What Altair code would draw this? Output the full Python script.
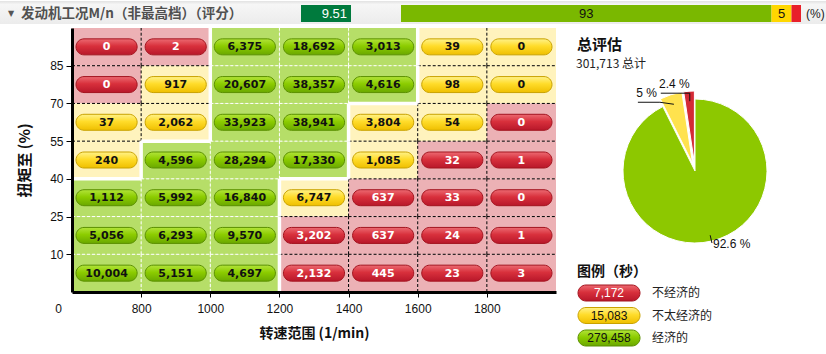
import json
import math
import altair as alt
import pandas as pd

# ---------------- data ----------------
rpm_labels = ["0", "800", "1000", "1200", "1400", "1600", "1800"]
torque_labels = ["10", "25", "40", "55", "70", "85"]

# rows from top (85+) to bottom (0-10)
cell_values = [
    [0, 2, 6375, 18692, 3013, 39, 0],
    [0, 917, 20607, 38357, 4616, 98, 0],
    [37, 2062, 33923, 38941, 3804, 54, 0],
    [240, 4596, 28294, 17330, 1085, 32, 1],
    [1112, 5992, 16840, 6747, 637, 33, 0],
    [5056, 6293, 9570, 3202, 637, 24, 1],
    [10004, 5151, 4697, 2132, 445, 23, 3],
]
cell_cats = [
    "RRGGGYY",
    "RYGGGYY",
    "YYGGYYR",
    "YGGGYRR",
    "GGGYRRR",
    "GGGRRRR",
    "GGGRRRR",
]
class_keys = ["R", "Y", "G"]
class_names = ["不经济的", "不太经济的", "经济的"]
class_seconds = [7172, 15083, 279458]
score = 9.51
header_title = "发动机工况M/n（非最高档）（评分）"
x_title = "转速范围 (1/min)"
y_title = "扭矩至 (%)"

# ---------------- styles ----------------
W, H = 484, 264
CJK = "Noto Sans CJK SC"
LAT = "Liberation Sans"
bg_col = {"R": "#ecb1b5", "Y": "#fff3bd", "G": "#b6de68"}
txt_col = {"R": "#ffffff", "Y": "#111111", "G": "#111111"}
pie_col = {"R": "#d42a35", "Y": "#ffe24e", "G": "#8dc800"}
bar_col = {"R": "#e8202a", "Y": "#ffd700", "G": "#7ab800"}
stroke_col = {"R": "#a3141f", "Y": "#c9a200", "G": "#5b9000"}


def grad(stops):
    return alt.Gradient(gradient="linear", x1=0, x2=0, y1=0, y2=1,
                        stops=[alt.GradientStop(color=c, offset=o) for o, c in stops])


pill_grad = {
    "R": grad([(0, "#ec6a72"), (0.45, "#d8303c"), (1, "#b8172a")]),
    "Y": grad([(0, "#fff28a"), (0.45, "#ffdc2a"), (1, "#efbf00")]),
    "G": grad([(0, "#b2e43a"), (0.45, "#8ccc00"), (1, "#6aa800")]),
}

# ---------------- grid table ----------------
rows = []
for i, (vals, cats) in enumerate(zip(cell_values, cell_cats)):
    r = 6 - i
    for c, (v, k) in enumerate(zip(vals, cats)):
        rows.append(dict(c=c, r=r, v=v, k=k, bg=bg_col[k], tc=txt_col[k]))
cells = pd.DataFrame(rows)
cat_at = {(d["c"], d["r"]): d["k"] for d in rows}


def edge_type(a, b):
    if a == b:
        return "dw" if a == "G" else "db"
    if "G" in (a, b):
        return "sw"
    return "db"


edges = []
for r in range(7):
    for c in range(6):
        edges.append(dict(x=c + 1, x2=c + 1, y=r, y2=r + 1,
                          t=edge_type(cat_at[(c, r)], cat_at[(c + 1, r)])))
for r in range(6):
    for c in range(7):
        edges.append(dict(x=c, x2=c + 1, y=r + 1, y2=r + 1,
                          t=edge_type(cat_at[(c, r)], cat_at[(c, r + 1)])))
edges = pd.DataFrame(edges)

XS = alt.Scale(domain=[0, 7], nice=False, zero=False)
YS = alt.Scale(domain=[0, 7], nice=False, zero=False)

x_axis = alt.Axis(
    values=list(range(7)),
    labelExpr=json.dumps(rpm_labels) + "[datum.value]",
    title=x_title, titleFont=CJK, titleFontWeight="bold", titleFontSize=14,
    titleColor="#111", titlePadding=12,
    labelFont=LAT, labelFontSize=12, labelColor="#111", labelPadding=6,
    labelFlush=False, labelOverlap=False,
    labelOffset=alt.condition("datum.value == 0", alt.value(-14), alt.value(0)),
    tickOpacity=alt.condition("datum.value == 0", alt.value(0), alt.value(1)),
    tickSize=5, tickColor="#000", tickWidth=1,
    domainColor="#000", domainWidth=3, grid=False, zindex=2,
)
y_axis = alt.Axis(
    values=list(range(1, 7)),
    labelExpr=json.dumps(torque_labels) + "[datum.value - 1]",
    title=y_title, titleFont=CJK, titleFontWeight="bold", titleFontSize=15,
    titleColor="#111", titlePadding=17,
    labelFont=LAT, labelFontSize=12, labelColor="#111", labelPadding=3,
    labelFlush=False, labelOverlap=False,
    tickSize=6, tickColor="#000", tickWidth=1,
    domainColor="#000", domainWidth=3, grid=False, zindex=2,
)

layers = []

bg = alt.Chart(cells).transform_calculate(
    c1="datum.c + 1", r1="datum.r + 1"
).mark_rect().encode(
    x=alt.X("c:Q", scale=XS, axis=x_axis),
    x2="c1:Q",
    y=alt.Y("r:Q", scale=YS, axis=y_axis),
    y2="r1:Q",
    fill=alt.Fill("bg:N", scale=None),
)
layers.append(bg)

edge_style = {
    "dw": dict(color="#ffffff", strokeWidth=1, strokeDash=[3, 2]),
    "db": dict(color="#000000", strokeWidth=1, strokeDash=[3, 2]),
    "sw": dict(color="#ffffff", strokeWidth=3.5),
}
for t in ["dw", "db", "sw"]:
    layers.append(
        alt.Chart(edges).transform_filter(f"datum.t == '{t}'").mark_rule(**edge_style[t]).encode(
            x=alt.X("x:Q", scale=XS, axis=None), x2="x2:Q",
            y=alt.Y("y:Q", scale=YS, axis=None), y2="y2:Q",
        )
    )

PX = 4 / (W / 7)
PY = 8 / (H / 7)
for k in class_keys:
    layers.append(
        alt.Chart(cells).transform_filter(f"datum.k == '{k}'").transform_calculate(
            x0=f"datum.c + {PX}", x1=f"datum.c + 1 - {PX}",
            y0=f"datum.r + 0.5 - {PY}", y1=f"datum.r + 0.5 + {PY}",
        ).mark_rect(cornerRadius=8, fill=pill_grad[k], stroke=stroke_col[k], strokeWidth=1).encode(
            x=alt.X("x0:Q", scale=XS, axis=None), x2="x1:Q",
            y=alt.Y("y0:Q", scale=YS, axis=None), y2="y1:Q",
        )
    )

layers.append(
    alt.Chart(cells).transform_calculate(
        xm="datum.c + 0.5", ym="datum.r + 0.5"
    ).mark_text(font="DejaVu Sans", fontWeight="bold", fontSize=11, baseline="middle",
                align="center", dy=0.5).encode(
        x=alt.X("xm:Q", scale=XS, axis=None),
        y=alt.Y("ym:Q", scale=YS, axis=None),
        text=alt.Text("v:Q", format=","),
        color=alt.Color("tc:N", scale=None),
    )
)

# ---------------- header ----------------
one = pd.DataFrame({"a": [0]})
layers.append(
    alt.Chart(one).mark_rect(
        fill=grad([(0, "#e2e2e2"), (0.15, "#f6f6f6"), (1, "#ececec")])
    ).encode(x=alt.value(-72), x2=alt.value(754), y=alt.value(-27), y2=alt.value(-4))
)
layers.append(
    alt.Chart(one).mark_text(text="▼", fontSize=8, color="#555", align="center",
                             baseline="middle", font="DejaVu Sans").encode(
        x=alt.value(-61), y=alt.value(-14))
)
layers.append(
    alt.Chart(one).mark_text(text=header_title, font=CJK, fontSize=13.5, color="#505050",
                             fontWeight="bold", align="left", baseline="middle").encode(
        x=alt.value(-51), y=alt.value(-14))
)
score_df = pd.DataFrame({"s": [score]})
layers.append(
    alt.Chart(score_df).mark_rect(fill="#007a3d").encode(
        x=alt.value(229), x2=alt.value(279), y=alt.value(-23), y2=alt.value(-6))
)
layers.append(
    alt.Chart(score_df).mark_text(font=LAT, fontSize=13, color="#ffffff", align="right",
                                  baseline="middle").encode(
        x=alt.value(275), y=alt.value(-14), text=alt.Text("s:Q", format=".2f"))
)

total = sum(class_seconds)
order_bar = ["G", "Y", "R"]
hb = []
acc = 0.0
for k in order_bar:
    p = class_seconds[class_keys.index(k)] / total * 100
    hb.append(dict(k=k, pct=p, h0=acc, h1=acc + p, hm=acc + p / 2, col=bar_col[k]))
    acc += p
hb = pd.DataFrame(hb)
HS = alt.Scale(domain=[0, 100], range=[329, 729], nice=False, zero=False)
layers.append(
    alt.Chart(hb).mark_rect().encode(
        x=alt.X("h0:Q", scale=HS, axis=None), x2="h1:Q",
        y=alt.value(-23), y2=alt.value(-6),
        fill=alt.Fill("col:N", scale=None),
    )
)
layers.append(
    alt.Chart(hb).transform_filter("datum.pct > 3").mark_text(
        font=LAT, fontSize=13, color="#111", align="center", baseline="middle").encode(
        x=alt.X("hm:Q", scale=HS, axis=None), y=alt.value(-14),
        text=alt.Text("pct:Q", format=".0f"),
    )
)
layers.append(
    alt.Chart(one).mark_text(text="(%)", font=LAT, fontSize=12, color="#222", align="left",
                             baseline="middle").encode(x=alt.value(734), y=alt.value(-14))
)

# ---------------- pie ----------------
CX, CY, R = 623, 143, 72
EX = 8
pie = []
acc = 0.0
for k in order_bar:
    f = class_seconds[class_keys.index(k)] / total
    t0, t1 = acc * 2 * math.pi, (acc + f) * 2 * math.pi
    m = (t0 + t1) / 2
    ex = 0 if k == "G" else EX
    pie.append(dict(k=k, pct=f * 100, t0=t0, t1=t1, mid=m,
                    px=CX + ex * math.sin(m), py=CY - ex * math.cos(m), col=pie_col[k]))
    acc += f
pie = pd.DataFrame(pie)
layers.append(
    alt.Chart(pie).mark_arc(outerRadius=R, stroke="#ffffff", strokeWidth=1).encode(
        x=alt.X("px:Q", scale=None), y=alt.Y("py:Q", scale=None),
        theta=alt.Theta("t0:Q", scale=None), theta2="t1:Q",
        fill=alt.Fill("col:N", scale=None),
    )
)

# pie labels and leader lines (from slice mid-angles)
lab, seg = [], []
for _, d in pie.iterrows():
    s, c = math.sin(d.mid), math.cos(d.mid)
    if d.k == "G":
        ax, ay = CX + (R - 6) * s, CY - (R - 6) * c
        bx, by = CX + (R + 2) * s, CY - (R + 2) * c
        seg.append(dict(x=ax, y=ay, x2=bx, y2=by))
        lab.append(dict(k=d.k, pct=d.pct, lx=bx + 1, ly=by + 1, al="left"))
    else:
        rr = EX + 62
        ax, ay = CX + rr * s, CY - rr * c
        if d.k == "R":
            ex_, ey_ = ax, ay - 8
            hx = ex_ - 29
            seg.append(dict(x=ax, y=ay, x2=ex_, y2=ey_))
            seg.append(dict(x=ex_, y=ey_, x2=hx, y2=ey_))
            lab.append(dict(k=d.k, pct=d.pct, lx=ex_, ly=ey_ - 9, al="right"))
        else:
            ex_, ey_ = ax - 14, ay - 2
            hx = ex_ - 22
            seg.append(dict(x=ax, y=ay, x2=ex_, y2=ey_))
            seg.append(dict(x=ex_, y=ey_, x2=hx, y2=ey_))
            lab.append(dict(k=d.k, pct=d.pct, lx=ex_ - 3, ly=ey_ - 9, al="right"))
lab = pd.DataFrame(lab)
seg = pd.DataFrame(seg)
layers.append(
    alt.Chart(seg).mark_rule(color="#111", strokeWidth=1).encode(
        x=alt.X("x:Q", scale=None), y=alt.Y("y:Q", scale=None),
        x2="x2:Q", y2="y2:Q",
    )
)
for al in ["left", "right"]:
    layers.append(
        alt.Chart(lab).transform_filter(f"datum.al == '{al}'").transform_calculate(
            txt="format(datum.pct, '.1~f') + ' %'"
        ).mark_text(font=LAT, fontSize=12, color="#111", align=al, baseline="middle").encode(
            x=alt.X("lx:Q", scale=None), y=alt.Y("ly:Q", scale=None), text="txt:N",
        )
    )

# ---------------- right panel texts ----------------
layers.append(
    alt.Chart(one).mark_text(text="总评估", font=CJK, fontSize=15, fontWeight="bold",
                             color="#111", align="left", baseline="middle").encode(
        x=alt.value(505), y=alt.value(17))
)
cls = pd.DataFrame({"k": class_keys, "name": class_names, "sec": class_seconds,
                    "i": list(range(3))})
cls["tc"] = cls["k"].map(txt_col)
layers.append(
    alt.Chart(cls).transform_aggregate(total="sum(sec)").transform_calculate(
        txt="format(datum.total, ',') + ' 总计'"
    ).mark_text(font=CJK, fontSize=12, color="#222", align="left", baseline="middle").encode(
        x=alt.value(504), y=alt.value(36), text="txt:N")
)
layers.append(
    alt.Chart(one).mark_text(text="图例（秒）", font=CJK, fontSize=14, fontWeight="bold",
                             color="#111", align="left", baseline="middle").encode(
        x=alt.value(505), y=alt.value(243.5))
)
LG0, LGS = 265, 22.5
for k in class_keys:
    layers.append(
        alt.Chart(cls).transform_filter(f"datum.k == '{k}'").transform_calculate(
            y0=f"{LG0} + datum.i * {LGS} - 8", y1=f"{LG0} + datum.i * {LGS} + 8"
        ).mark_rect(cornerRadius=8, fill=pill_grad[k], stroke=stroke_col[k], strokeWidth=1).encode(
            x=alt.value(506), x2=alt.value(568),
            y=alt.Y("y0:Q", scale=None), y2="y1:Q",
        )
    )
layers.append(
    alt.Chart(cls).transform_calculate(ym=f"{LG0} + datum.i * {LGS}").mark_text(
        font=LAT, fontSize=12, align="center", baseline="middle").encode(
        x=alt.value(537), y=alt.Y("ym:Q", scale=None),
        text=alt.Text("sec:Q", format=","), color=alt.Color("tc:N", scale=None),
    )
)
layers.append(
    alt.Chart(cls).transform_calculate(ym=f"{LG0} + datum.i * {LGS}").mark_text(
        font=CJK, fontSize=12, align="left", baseline="middle", color="#222").encode(
        x=alt.value(580), y=alt.Y("ym:Q", scale=None), text="name:N",
    )
)

chart = alt.layer(*layers).resolve_scale(
    x="independent", y="independent"
).properties(
    width=W, height=H,
    autosize=alt.AutoSizeParams(type="none"),
    padding={"left": 72, "top": 28, "right": 270, "bottom": 62},
    background="#ffffff",
).configure_view(stroke=None)

chart.save("out.html", embed_options={"renderer": "svg", "actions": False})
